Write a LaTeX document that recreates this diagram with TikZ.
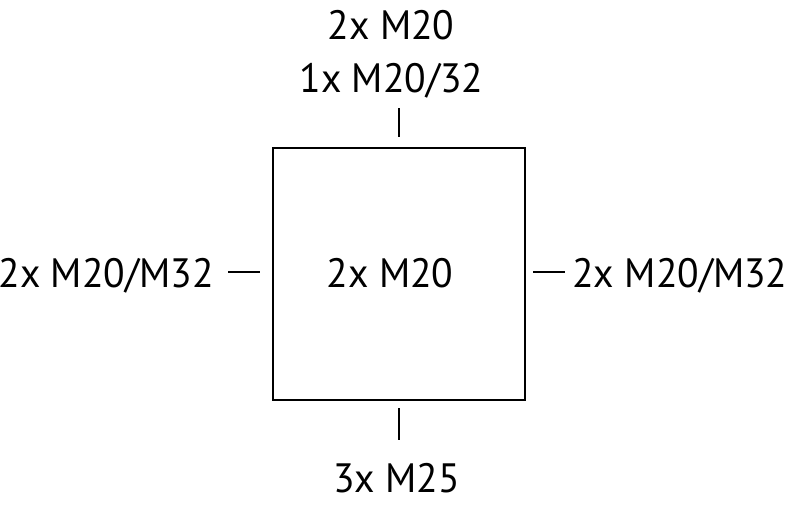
\documentclass[tikz,border=0pt]{standalone}
\usepackage{fontspec}
\setmainfont[FakeStretch=0.965]{PT Sans}
\begin{document}
\begin{tikzpicture}[x=1pt,y=-1pt,
  lbl/.style={inner sep=0pt,font=\fontsize{41}{41}\selectfont},
  ln/.style={line width=2pt,black}]
\useasboundingbox (0,0) rectangle (800,507);
\node[ln,draw,minimum width=252pt,minimum height=252pt,inner sep=0pt,anchor=north west] (box) at (272,147) {};
\node[lbl,anchor=base] (t1) at (391,39) {2x M20};
\node[lbl,anchor=base] (t2) at (391.5,92) {1x M20/32};
\node[lbl,anchor=base east] (l) at (214,287) {2x M20/M32};
\node[lbl,anchor=base west] (r) at (572,287) {2x M20/M32};
\node[lbl,anchor=base] (c) at (390,287) {2x M20};
\node[lbl,anchor=base] (b) at (396.5,492) {3x M25};
\coordinate (tt1) at (399,108); \coordinate (tt2) at (399,137);
\coordinate (bt1) at (399,408); \coordinate (bt2) at (399,440);
\coordinate (lt1) at (228,272); \coordinate (lt2) at (260,272);
\coordinate (rt1) at (533,272); \coordinate (rt2) at (565,272);
\draw[ln] (tt1) -- (tt2);
\draw[ln] (bt1) -- (bt2);
\draw[ln] (lt1) -- (lt2);
\draw[ln] (rt1) -- (rt2);
\end{tikzpicture}
\end{document}
